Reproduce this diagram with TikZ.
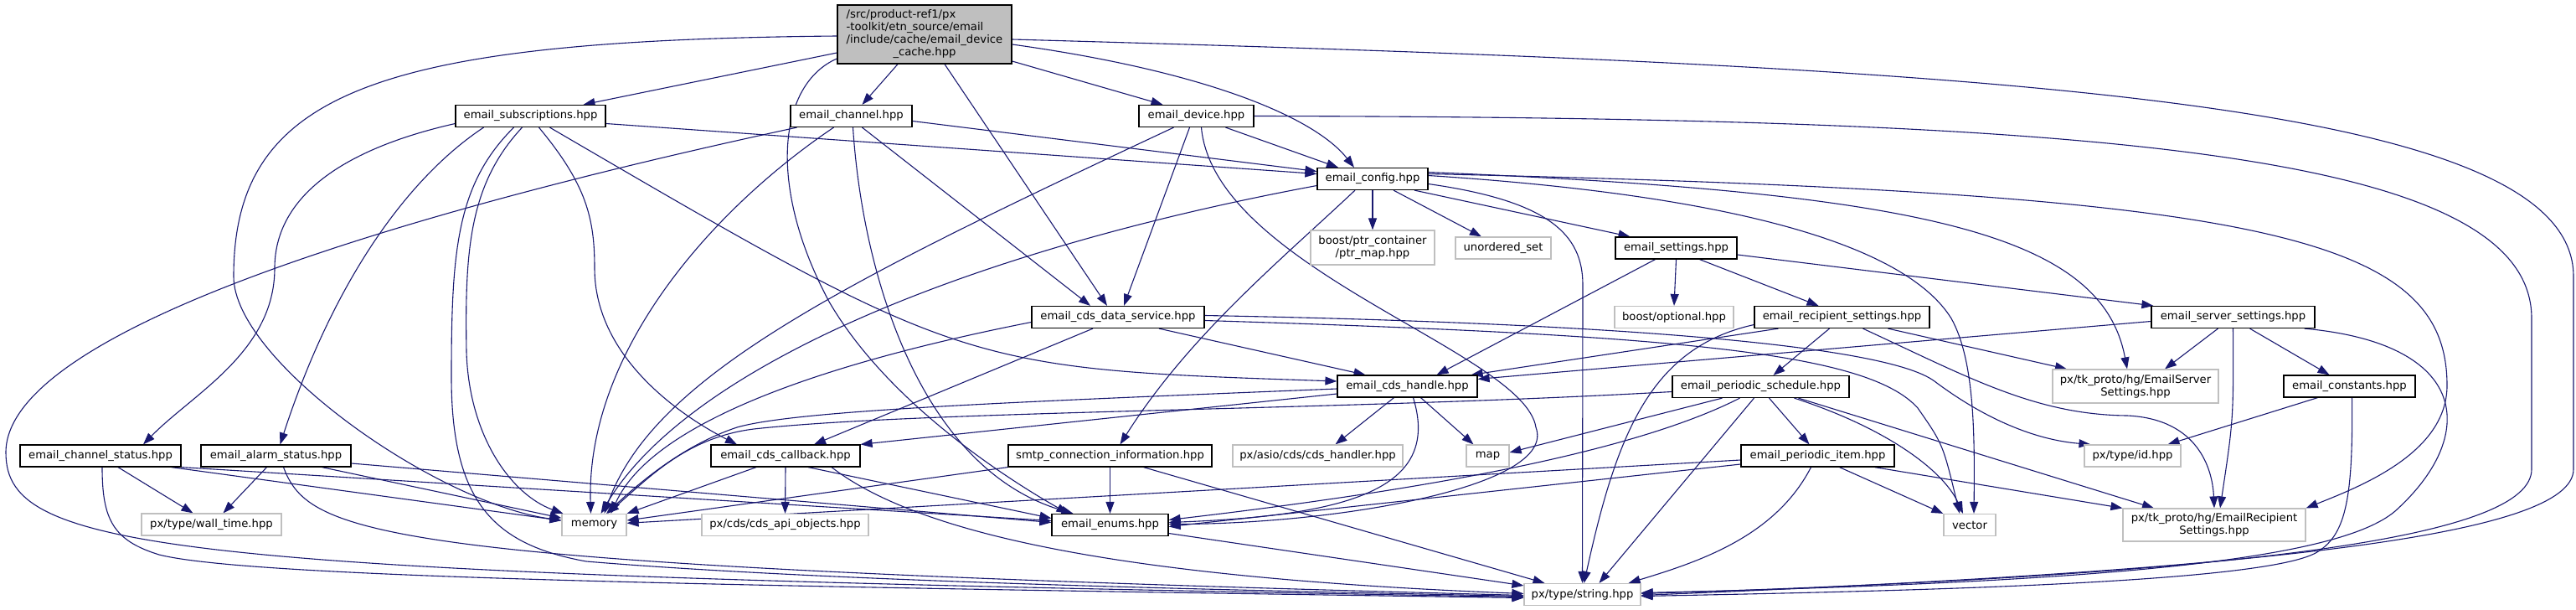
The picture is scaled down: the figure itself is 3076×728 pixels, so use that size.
\documentclass[tikz,border=0pt]{standalone}
\usepackage{fontspec}
\newfontfamily\dv{DejaVu Sans}
\usetikzlibrary{arrows.meta}
\definecolor{edgec}{HTML}{191970}
\definecolor{gborder}{HTML}{BFBFBF}
\definecolor{rootfill}{HTML}{BFBFBF}
\pgfdeclarelayer{edgelayer}
\pgfdeclarelayer{backlayer}
\pgfsetlayers{backlayer,edgelayer,main}
\tikzset{
  nd/.style={draw=black, fill=white, line width=1.2pt, inner sep=0pt, font=\dv\fontsize{13.2pt}{15pt}\selectfont, align=center, minimum height=26pt},
  ext/.style={nd, draw=gborder},
  lnk/.style={draw=edgec, line width=1.1pt, -{Triangle[length=14pt,width=10pt]}},
}
\begin{document}
\begin{tikzpicture}[x=1pt,y=-1pt]
\begin{pgfonlayer}{backlayer}
\fill[white] (0,0) rectangle (3076,728);
\end{pgfonlayer}
\useasboundingbox (0,0) rectangle (3076,728);
% ---- nodes ----
\node[nd, fill=rootfill, minimum width=208pt, minimum height=70pt] (R) at (1104,41)
  {\begin{tabular}{@{}l@{}}/src/product-ref1/px\\-toolkit/etn\_source/email\\/include/cache/email\_device\\\multicolumn{1}{@{}c@{}}{\_cache.hpp}\end{tabular}};
\node[nd, minimum width=179pt] (subs) at (633.5,138.5) {email\_subscriptions.hpp};
\node[nd, minimum width=145pt] (chan) at (1016.5,138.5) {email\_channel.hpp};
\node[nd, minimum width=137pt] (dev) at (1428.5,138.5) {email\_device.hpp};
\node[nd, minimum width=132pt] (config) at (1639,213.5) {email\_config.hpp};
\node[ext, minimum width=148pt, minimum height=41pt] (ptrmap) at (1639,295.5) {boost/ptr\_container\\/ptr\_map.hpp};
\node[ext, minimum width=114pt] (unord) at (1795,296) {unordered\_set};
\node[nd, minimum width=145pt] (settings) at (2001.5,296) {email\_settings.hpp};
\node[nd, minimum width=206pt] (cdsds) at (1335,378.5) {email\_cds\_data\_service.hpp};
\node[ext, minimum width=142pt] (optional) at (1999,378.5) {boost/optional.hpp};
\node[nd, minimum width=209pt] (recip) at (2199.5,378.5) {email\_recipient\_settings.hpp};
\node[nd, minimum width=195pt] (server) at (2666.5,378.5) {email\_server\_settings.hpp};
\node[nd, minimum width=167pt] (cdshandle) at (1680.5,461) {email\_cds\_handle.hpp};
\node[ext, minimum width=198pt, minimum height=40pt] (ESS) at (2550,461) {px/tk\_proto/hg/EmailServer\\Settings.hpp};
\node[nd, minimum width=157pt] (constants) at (2805.5,461) {email\_constants.hpp};
\node[nd, minimum width=211pt] (psched) at (2102.5,461.5) {email\_periodic\_schedule.hpp};
\node[nd, minimum width=178pt] (cdscb) at (938,544) {email\_cds\_callback.hpp};
\node[nd, minimum width=192pt] (chanstat) at (120,544) {email\_channel\_status.hpp};
\node[nd, minimum width=179pt] (alarmstat) at (329.5,544) {email\_alarm\_status.hpp};
\node[nd, minimum width=243pt] (smtp) at (1325.5,544) {smtp\_connection\_information.hpp};
\node[ext, minimum width=203pt] (cdshandler) at (1573.5,544) {px/asio/cds/cds\_handler.hpp};
\node[ext, minimum width=51pt] (map) at (1776.5,544) {map};
\node[ext, minimum width=115pt] (id) at (2546.5,544) {px/type/id.hpp};
\node[nd, minimum width=183pt] (pitem) at (2170.5,544) {email\_periodic\_item.hpp};
\node[ext, minimum width=167pt] (walltime) at (252.5,626) {px/type/wall\_time.hpp};
\node[ext, minimum width=77pt] (memory) at (709.5,626.5) {memory};
\node[ext, minimum width=199pt] (cdsapi) at (937.5,626.5) {px/cds/cds\_api\_objects.hpp};
\node[nd, minimum width=139pt] (enums) at (1325.5,626.5) {email\_enums.hpp};
\node[ext, minimum width=62pt] (vector) at (2352,626.5) {vector};
\node[ext, minimum width=218pt, minimum height=39pt] (ERS) at (2644,626.5) {px/tk\_proto/hg/EmailRecipient\\Settings.hpp};
\node[ext, minimum width=139pt] (string) at (1889.5,709.5) {px/type/string.hpp};
\begin{pgfonlayer}{edgelayer}
% ---- root ----
\draw[lnk] ([yshift=-22pt]R.west) -- ([xshift=63pt]subs.north);
\draw[lnk] ([xshift=-32pt]R.south) -- ([xshift=13pt]chan.north);
\draw[lnk] ([yshift=-32pt]R.east) -- ([xshift=-40pt]dev.north);
\draw[lnk] ([yshift=-12pt]R.east) .. controls (1440,85) and (1570,140) .. ([xshift=-22pt]config.north);
\draw[lnk] ([xshift=24pt]R.south) -- ([xshift=-13pt]cdsds.north);
\draw[lnk] ([yshift=-29pt]R.west) .. controls (930,100) and (915,220) .. (990,360) .. controls (1060,480) and (1200,570) .. ([xshift=-50pt]enums.north);
\draw[lnk] ([yshift=-2pt]R.west) .. controls (450,48) and (279,110) .. (279,330) .. controls (279,430) and (520,600) .. (memory);
\draw[lnk] ([yshift=-6pt]R.east) .. controls (2400,80) and (3073,120) .. (3073,330) -- (3073,560) .. controls (3073,640) and (2700,680) .. ([yshift=-1pt]string.east);
% ---- subscriptions ----
\draw[lnk] ([yshift=-9pt]subs.east) -- ([yshift=6pt]config.west);
\draw[lnk] ([yshift=-9pt]subs.west) .. controls (400,180) and (328,240) .. (328,320) .. controls (328,420) and (230,470) .. ([xshift=51pt]chanstat.north);
\draw[lnk] ([xshift=-56pt]subs.south) .. controls (490,210) and (400,330) .. ([xshift=5pt]alarmstat.north);
\draw[lnk] ([xshift=-10pt]subs.south) .. controls (560,220) and (555,300) .. (557,420) .. controls (560,520) and (610,590) .. (memory);
\draw[lnk] ([xshift=-20pt]subs.south) .. controls (545,220) and (539,300) .. (539,450) .. controls (539,600) and (590,650) .. (700,670) .. controls (1000,695) and (1500,705) .. ([yshift=-2pt]string.west);
\draw[lnk] ([xshift=10pt]subs.south) .. controls (700,220) and (710,260) .. (710,320) .. controls (710,430) and (820,500) .. ([xshift=-58pt]cdscb.north);
\draw[lnk] ([xshift=23pt]subs.south) .. controls (1150,440) .. ([yshift=6pt]cdshandle.west);
% ---- channel ----
\draw[lnk] ([yshift=-6pt]chan.east) -- ([yshift=9pt]config.west);
\draw[lnk] ([xshift=13pt]chan.south) -- ([xshift=-33pt]cdsds.north);
\draw[lnk] ([xshift=-21pt]chan.south) .. controls (850,250) and (700,420) .. ([xshift=-4pt]memory.north);
\draw[lnk] ([xshift=2pt]chan.south) .. controls (1030,330) and (1100,560) .. ([xshift=-44pt]enums.north);
\draw[lnk] ([xshift=-65pt]chan.south) .. controls (450,260) and (7,400) .. (7,540) .. controls (7,660) and (200,685) .. ([yshift=-3pt]string.west);
% ---- device ----
\draw[lnk] ([xshift=35pt]dev.south) -- ([xshift=-41pt]config.north);
\draw[lnk] ([xshift=-27pt]dev.south) .. controls (1000,340) and (780,450) .. ([xshift=12pt]memory.north);
\draw[lnk] ([xshift=-8pt]dev.south) -- ([xshift=7pt]cdsds.north);
\draw[lnk] ([xshift=6pt]dev.south) .. controls (1450,320) and (1820,420) .. (1834,510) .. controls (1860,580) and (1600,625) .. ([yshift=1pt]enums.east);
\draw[lnk] (dev.east) .. controls (2500,140) and (3023,180) .. (3023,380) -- (3023,560) .. controls (3023,640) and (2700,685) .. ([yshift=1pt]string.east);
% ---- config ----
\draw[lnk] ([yshift=-8pt]config.west) .. controls (1150,300) and (820,440) .. (memory);
\draw[lnk] ([xshift=-21pt]config.south) .. controls (1530,310) and (1420,400) .. ([xshift=12pt]smtp.north);
\draw[lnk] (config.south) -- (ptrmap.north);
\draw[lnk] ([xshift=25pt]config.south) -- ([xshift=-26pt]unord.north);
\draw[lnk] ([xshift=50pt]config.south) -- ([xshift=-55pt]settings.north);
\draw[lnk] ([yshift=-6pt]config.east) .. controls (1850,240) and (1890,280) .. (1890,340) -- (string.north);
\draw[lnk] ([yshift=4pt]config.east) .. controls (2100,235) and (2280,300) .. (2330,380) .. controls (2358,430) and (2358,520) .. ([xshift=5pt]vector.north);
\draw[lnk] ([yshift=8pt]config.east) .. controls (2300,230) and (2510,280) .. ([xshift=-10pt]ESS.north);
\draw[lnk] ([yshift=6pt]config.east) .. controls (2700,230) and (2922,280) .. (2922,460) .. controls (2922,540) and (2820,580) .. (ERS.north east);
% ---- settings ----
\draw[lnk] (settings.south) -- (optional.north);
\draw[lnk] ([xshift=-25pt]settings.south) -- ([xshift=35pt]cdshandle.north);
\draw[lnk] ([xshift=28pt]settings.south) -- ([xshift=-28pt]recip.north);
\draw[lnk] ([yshift=-8pt]settings.east) -- ([xshift=3pt]server.north west);
% ---- cds data service ----
\draw[lnk] ([yshift=-6pt]cdsds.west) .. controls (1000,430) and (780,500) .. ([xshift=20pt]memory.north);
\draw[lnk] ([xshift=-30pt]cdsds.south) -- ([xshift=34pt]cdscb.north);
\draw[lnk] ([xshift=49pt]cdsds.south) -- ([xshift=-50pt]cdshandle.north);
\draw[lnk] ([yshift=2pt]cdsds.east) .. controls (1900,385) and (2250,410) .. (2310,455) .. controls (2370,500) and (2430,525) .. ([xshift=-50pt]id.north);
\draw[lnk] ([yshift=-4pt]cdsds.east) .. controls (2000,400) and (2230,420) .. (2290,487) .. controls (2320,530) .. ([xshift=-12pt]vector.north);
% ---- recipient settings ----
\draw[lnk] ([xshift=-76pt]recip.south) -- ([xshift=-8pt]cdshandle.north east);
\draw[lnk] ([xshift=-15pt]recip.south) -- ([xshift=15pt]psched.north);
\draw[lnk] ([yshift=-9pt]recip.west) .. controls (1970,415) and (1930,520) .. ([xshift=2pt]string.north);
\draw[lnk] ([xshift=55pt]recip.south) -- ([xshift=-82pt]ESS.north);
\draw[lnk] ([xshift=25pt]recip.south) .. controls (2350,450) and (2430,495) .. (2540,496) .. controls (2625,500) and (2642,560) .. (ERS.north);
% ---- server settings ----
\draw[lnk] ([yshift=-5pt]server.west) -- ([yshift=-5pt]cdshandle.north east);
\draw[lnk] ([xshift=-18pt]server.south) -- ([xshift=35pt]ESS.north);
\draw[lnk] (server.south) .. controls (2667,500) .. ([xshift=7pt]ERS.north);
\draw[lnk] ([xshift=20pt]server.south) -- ([xshift=-24pt]constants.north);
\draw[lnk] ([xshift=-13pt]server.south east) .. controls (2950,410) and (2960,520) .. (2860,610) .. controls (2790,670) and (2500,695) .. ([yshift=2pt]string.east);
% ---- constants ----
\draw[lnk] ([xshift=-38pt]constants.south) -- ([xshift=42pt]id.north);
\draw[lnk] ([xshift=3pt]constants.south) .. controls (2810,600) and (2800,640) .. (2765,660) .. controls (2700,695) and (2300,705) .. ([yshift=-2pt]string.east);
% ---- cds handle ----
\draw[lnk] ([yshift=-9pt]cdshandle.west) -- (cdscb.north east);
\draw[lnk] ([yshift=-3pt]cdshandle.west) .. controls (1200,480) and (950,490) .. (880,510) .. controls (820,530) and (770,570) .. (memory);
\draw[lnk] ([xshift=-16pt]cdshandle.south) -- ([xshift=21pt]cdshandler.north);
\draw[lnk] ([xshift=16pt]cdshandle.south) -- ([xshift=-17pt]map.north);
\draw[lnk] ([xshift=7pt]cdshandle.south) .. controls (1720,580) and (1620,615) .. ([yshift=3pt]enums.east);
% ---- periodic schedule ----
\draw[lnk] ([yshift=-6pt]psched.west) .. controls (1600,490) and (1100,490) .. (900,512) .. controls (820,522) and (775,570) .. (memory);
\draw[lnk] ([xshift=-46pt]psched.south) -- ([yshift=4pt]map.east);
\draw[lnk] ([xshift=-25pt]psched.south) .. controls (1950,540) and (1700,585) .. ([yshift=6pt]enums.east);
\draw[lnk] ([xshift=-8pt]psched.south) -- ([xshift=20pt]string.north);
\draw[lnk] ([xshift=10pt]psched.south) -- ([xshift=-10pt]pitem.north);
\draw[lnk] ([xshift=40pt]psched.south) .. controls (2250,510) and (2320,560) .. ([xshift=-8pt]vector.north);
\draw[lnk] ([xshift=45pt]psched.south) -- ([xshift=-72pt]ERS.north);
% ---- periodic item ----
\draw[lnk] ([yshift=-5pt]pitem.west) -- (memory);
\draw[lnk] ([yshift=-10pt]pitem.west) -- ([yshift=-2pt]enums.east);
\draw[lnk] ([xshift=-8pt]pitem.south) .. controls (2120,640) and (2030,670) .. ([xshift=-15pt]string.north east);
\draw[lnk] ([xshift=26pt]pitem.south) -- (vector.north west);
\draw[lnk] ([xshift=-24pt]pitem.south east) -- (ERS.north west);
% ---- cds callback ----
\draw[lnk] ([xshift=-35pt]cdscb.south) -- (memory.north east);
\draw[lnk] (cdscb.south) -- (cdsapi.north);
\draw[lnk] ([xshift=27pt]cdscb.south) -- ([yshift=8pt]enums.west);
\draw[lnk] ([xshift=55pt]cdscb.south) .. controls (1100,640) and (1350,690) .. ([yshift=1pt]string.west);
% ---- smtp ----
\draw[lnk] (smtp.south west) -- (memory);
\draw[lnk] (smtp.south) -- (enums.north);
\draw[lnk] ([xshift=40pt]smtp.south) -- ([xshift=-45pt]string.north);
% ---- channel status ----
\draw[lnk] ([xshift=21pt]chanstat.south) -- ([xshift=-22pt]walltime.north);
\draw[lnk] ([xshift=-12pt]chanstat.south east) -- (memory);
\draw[lnk] (chanstat.south east) -- ([yshift=5pt]enums.west);
\draw[lnk] ([xshift=2pt]chanstat.south) .. controls (122,620) and (135,645) .. (190,662) .. controls (300,690) and (900,700) .. ([yshift=-4pt]string.west);
% ---- alarm status ----
\draw[lnk] ([xshift=-11pt]alarmstat.south) -- ([xshift=14pt]walltime.north);
\draw[lnk] ([xshift=55pt]alarmstat.south) -- (memory);
\draw[lnk] ([yshift=-9pt]alarmstat.east) -- ([yshift=3pt]enums.west);
\draw[lnk] ([xshift=9pt]alarmstat.south) .. controls (370,640) and (450,675) .. ([yshift=-1pt]string.west);
% ---- enums ----
\draw[lnk] ([yshift=-10pt]enums.east) -- ([yshift=-3pt]string.north west);
\end{pgfonlayer}
\end{tikzpicture}
\end{document}
